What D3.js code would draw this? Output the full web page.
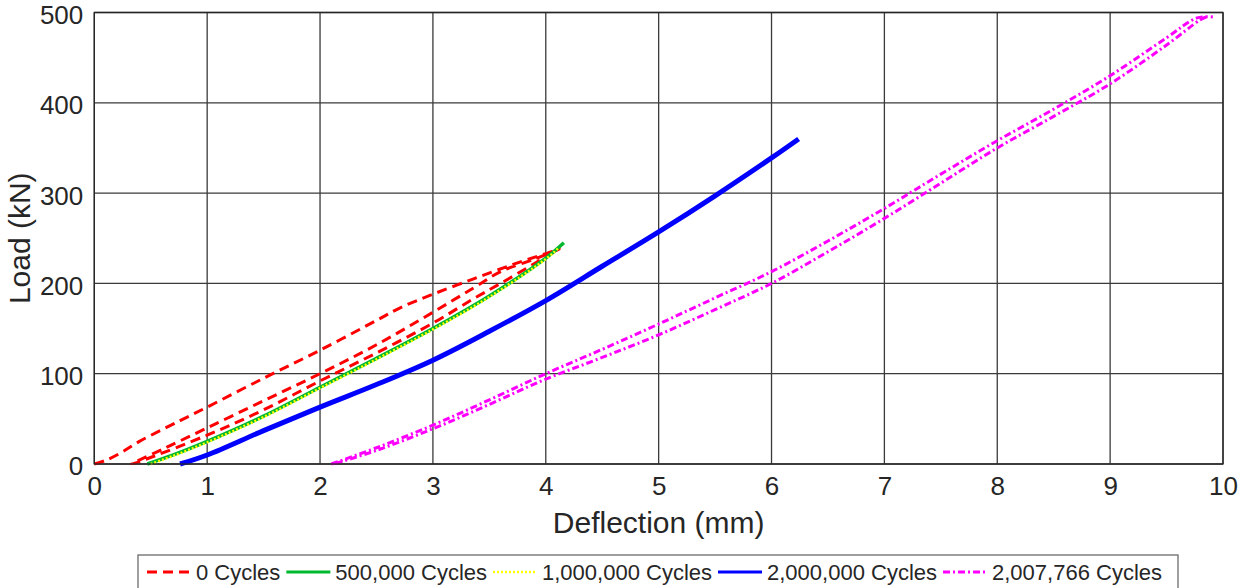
<!DOCTYPE html>
<html>
<head>
<meta charset="utf-8">
<script src="https://cdn.jsdelivr.net/npm/d3@7"></script>
<style>
  body { margin: 0; background: #fff; }
  svg text { font-family: "Liberation Sans", Arial, Helvetica, sans-serif; fill: #262626; }
</style>
</head>
<body>
<svg id="chart" width="1242" height="588"></svg>
<script>

// tick labels
let xTicks = [0, 1, 2, 3, 4, 5, 6, 7, 8, 9, 10];
let yTicks = [0, 100, 200, 300, 400, 500];

// 0 cycles : static test with a few load / unload loops
let cycles0 = [
    // first loading
    [0, 0], [0.1, 4], [0.23, 12], [0.4, 25], [0.76, 48], [1.0, 63], [1.5, 95], [2.0, 126],
    [2.5, 159], [2.71, 173], [3.0, 188], [3.36, 205], [3.71, 221], [4.0, 233], [4.12, 238],
    // unloading
    [3.9, 227], [3.6, 213], [3.36, 195], [3.0, 168], [2.5, 132], [2.0, 100], [1.5, 70],
    [1.0, 40], [0.6, 16], [0.33, 0],
    // reloading
    [0.45, 5], [1.0, 32], [1.5, 60], [2.0, 92], [2.5, 123], [3.0, 156], [3.36, 183],
    [3.6, 200], [3.9, 222], [4.1, 237]
];

let cycles500k = [
    [0.47, 0], [0.7, 10], [1.0, 25], [1.5, 53], [2.0, 85], [2.5, 117], [3.0, 150],
    [3.5, 186], [4.0, 228], [4.16, 245]
];

let cycles1m = [
    [0.5, 0], [0.7, 9], [1.0, 24], [1.5, 52], [2.0, 84], [2.5, 116], [3.0, 149],
    [3.5, 185], [4.0, 227], [4.12, 240]
];

let cycles2m = [
    [0.76, 0], [1.0, 10], [1.5, 37], [2.0, 63], [2.5, 88], [3.0, 115], [3.5, 147],
    [4.0, 181], [4.5, 219], [5.0, 257], [5.5, 297], [6.0, 339], [6.24, 360]
];

// 2,007,766 cycles : loading and unloading branch
let cyclesFinalUp = [
    [2.1, 0], [2.5, 18], [3.0, 43], [3.5, 71], [4.0, 100], [4.5, 127], [5.0, 155],
    [5.5, 184], [6.0, 213], [6.5, 247], [7.0, 283], [7.5, 321], [8.0, 358], [8.5, 393],
    [9.0, 430], [9.5, 472], [9.77, 494], [9.91, 495]
];
let cyclesFinalDown = [
    [9.85, 495], [9.8, 492], [9.5, 464], [9.0, 421], [8.5, 385], [8.0, 350], [7.5, 311],
    [7.0, 272], [6.5, 235], [6.0, 200], [5.5, 171], [5.0, 143], [4.5, 118], [4.0, 94],
    [3.5, 66], [3.0, 39], [2.5, 15], [2.12, 0]
];

let seriesNames = ["0 Cycles", "500,000 Cycles", "1,000,000 Cycles", "2,000,000 Cycles", "2,007,766 Cycles"];

let series = [
    {name: seriesNames[0], parts: [cycles0], color: "#ff0000", width: 3, dash: "10,6"},
    {name: seriesNames[1], parts: [cycles500k], color: "#00b82e", width: 3.5, dash: null},
    {name: seriesNames[2], parts: [cycles1m], color: "#ffff00", width: 2.5, dash: "2,2"},
    {name: seriesNames[3], parts: [cycles2m], color: "#0000ff", width: 5, dash: null},
    {name: seriesNames[4], parts: [cyclesFinalUp, cyclesFinalDown], color: "#ff00ff", width: 3, dash: "7,3,2,3"}
];

let svg = d3.select("#chart");

let margin = {left: 94.3, right: 1223, top: 12.5, bottom: 464};

let x = d3.scaleLinear().domain([0, 10]).range([margin.left, margin.right]);
let y = d3.scaleLinear().domain([0, 500]).range([margin.bottom, margin.top]);

// grid
svg.append("g")
    .selectAll("line.vgrid")
    .data(xTicks)
    .enter().append("line")
    .attr("x1", d => x(d)).attr("x2", d => x(d))
    .attr("y1", margin.top).attr("y2", margin.bottom)
    .attr("stroke", "#3a3a3a").attr("stroke-width", 1.3);

svg.append("g")
    .selectAll("line.hgrid")
    .data(yTicks)
    .enter().append("line")
    .attr("x1", margin.left).attr("x2", margin.right)
    .attr("y1", d => y(d)).attr("y2", d => y(d))
    .attr("stroke", "#3a3a3a").attr("stroke-width", 1.3);

// curves
let line = d3.line()
    .x(d => x(d[0]))
    .y(d => y(d[1]))
    .curve(d3.curveCatmullRom.alpha(0.5));

series.forEach(function(s) {
    s.parts.forEach(function(p) {
        svg.append("path")
            .datum(p)
            .attr("d", line)
            .attr("fill", "none")
            .attr("stroke", s.color)
            .attr("stroke-width", s.width)
            .attr("stroke-linejoin", "round")
            .attr("stroke-dasharray", s.dash);
    });
});

// axes (labels only, box drawn separately)
let xAxis = svg.append("g")
    .attr("transform", "translate(0," + margin.bottom + ")")
    .call(d3.axisBottom(x).tickValues(xTicks).tickFormat(d3.format("d")).tickSize(0).tickPadding(13));
let yAxis = svg.append("g")
    .attr("transform", "translate(" + margin.left + ",0)")
    .call(d3.axisLeft(y).tickValues(yTicks).tickFormat(d3.format("d")).tickSize(0).tickPadding(11));

[xAxis, yAxis].forEach(function(a) {
    a.select(".domain").remove();
    a.selectAll("text").attr("font-size", 26).style("fill", "#262626")
        .attr("font-family", "Liberation Sans, Arial, sans-serif");
});
// y labels sit a bit under their grid line in the original
yAxis.selectAll("text").attr("dy", "0.42em");

svg.append("rect")
    .attr("x", margin.left).attr("y", margin.top)
    .attr("width", margin.right - margin.left)
    .attr("height", margin.bottom - margin.top)
    .attr("fill", "none").attr("stroke", "#262626").attr("stroke-width", 1.3);

// axis titles
svg.append("text")
    .attr("x", (margin.left + margin.right) / 2)
    .attr("y", 533)
    .attr("text-anchor", "middle")
    .attr("font-size", 30)
    .text("Deflection (mm)");

svg.append("text")
    .attr("transform", "translate(30," + (margin.top + margin.bottom) / 2 + ") rotate(-90)")
    .attr("text-anchor", "middle")
    .attr("font-size", 30)
    .text("Load (kN)");

// legend
let legend = svg.append("g");
legend.append("rect")
    .attr("x", 138).attr("y", 555)
    .attr("width", 1040).attr("height", 45)
    .attr("fill", "#fff").attr("stroke", "#6b6b6b").attr("stroke-width", 1.3);

let lx = 147;
series.forEach(function(s) {
    legend.append("line")
        .attr("x1", lx).attr("x2", lx + 44)
        .attr("y1", 572).attr("y2", 572)
        .attr("stroke", s.color)
        .attr("stroke-width", s.width > 3 ? 3 : s.width)
        .attr("stroke-dasharray", s.dash);
    let t = legend.append("text")
        .attr("x", lx + 49)
        .attr("y", 580)
        .attr("font-size", 22)
        .text(s.name);
    lx = lx + 49 + t.node().getComputedTextLength() + 6;
});

</script>
</body>
</html>
